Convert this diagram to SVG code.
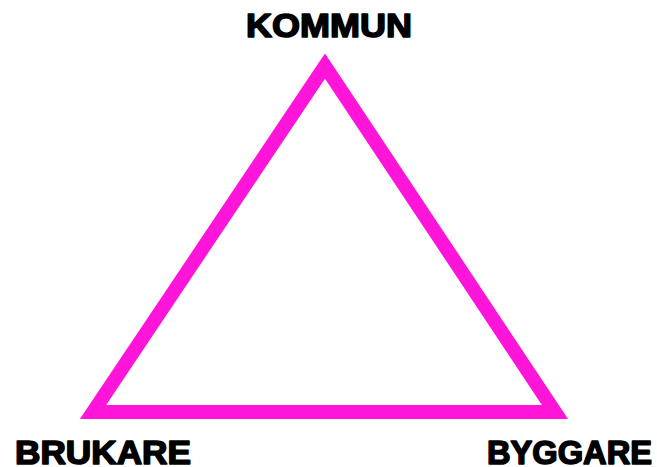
<svg xmlns="http://www.w3.org/2000/svg" width="657" height="467" viewBox="0 0 657 467">
<style>
.lbl{font-family:"Liberation Sans",Arial,sans-serif;font-weight:bold;font-size:33px;fill:#000;stroke:#000;stroke-width:1.6px;stroke-linejoin:round}
</style>
<rect width="657" height="467" fill="#fff"/>
<g id="connectors">
<polygon points="325,66 93,412 555,412" fill="none" stroke="#FF14DA" stroke-width="14" stroke-linejoin="miter" stroke-miterlimit="10"/>
</g>
<g id="kommun"><text class="lbl" x="246" y="37" textLength="166" lengthAdjust="spacingAndGlyphs">KOMMUN</text></g>
<g id="brukare"><text class="lbl" x="15" y="464" textLength="176" lengthAdjust="spacingAndGlyphs">BRUKARE</text></g>
<g id="byggare"><text class="lbl" x="487" y="464" textLength="165" lengthAdjust="spacingAndGlyphs">BYGGARE</text></g>
</svg>
